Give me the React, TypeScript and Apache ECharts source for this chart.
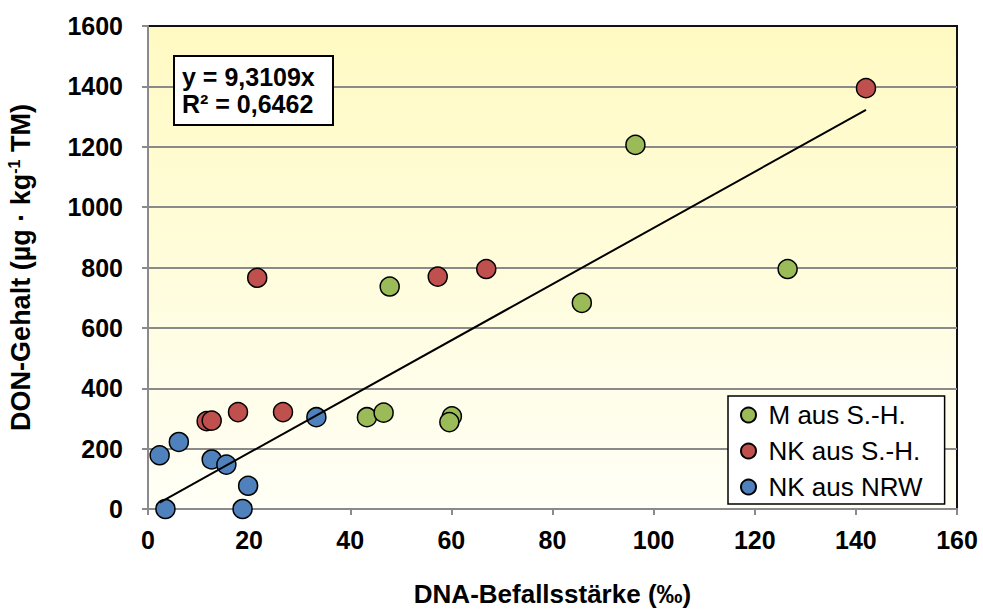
import React, { useEffect, useRef } from "react";
import * as echarts from "echarts";

const seriesNames = ["M aus S.-H.", "NK aus S.-H.", "NK aus NRW"];
const seriesColors = ["#9BBB59", "#C0504D", "#4F81BD"];

const mX = [96.4, 126.5, 85.8, 47.8, 43.3, 46.6, 60.1, 59.6];
const mY = [1206, 795, 683, 737, 304, 319, 307, 288];
const nkShX = [142, 66.9, 57.3, 21.6, 11.6, 12.6, 17.8, 26.7];
const nkShY = [1394, 795, 770, 766, 291, 293, 321, 321];
const nrwX = [33.3, 2.3, 6.1, 12.6, 15.5, 19.8, 3.45, 18.7];
const nrwY = [304, 178, 222, 164, 147, 77, 0, 0];

const slope = 9.3109;
const r2 = 0.6462;
const trendX = [2.3, 142];

const xMin = 0, xMax = 160, xStep = 20;
const yMin = 0, yMax = 1600, yStep = 200;

const FONT = '"Liberation Sans", Arial, sans-serif';
const fmt = (v: number) => String(v).replace(".", ",");

export default function App() {
  const ref = useRef<HTMLDivElement>(null);
  useEffect(() => {
    if (!ref.current) return;
    const chart = echarts.init(ref.current, undefined, { renderer: "svg" });
    const pts = (xs: number[], ys: number[]) => xs.map((x, i) => [x, ys[i]]);
    const data = [pts(mX, mY), pts(nkShX, nkShY), pts(nrwX, nrwY)];
    const gray = "#8A8A8A";
    chart.setOption({
      animation: false,
      textStyle: { fontFamily: FONT },
      grid: {
        left: 148,
        right: 26,
        top: 26,
        bottom: 100,
        containLabel: false,
        outerBoundsMode: "none",
        show: true,
        borderColor: "#111",
        borderWidth: 2,
        backgroundColor: {
          type: "linear",
          x: 0, y: 0, x2: 0, y2: 1,
          colorStops: [
            { offset: 0, color: "#FFFAC2" },
            { offset: 1, color: "#FFFFF6" },
          ],
        },
      },
      xAxis: {
        type: "value",
        min: xMin,
        max: xMax,
        interval: xStep,
        name: "DNA-Befallsstärke (‰)",
        nameLocation: "middle",
        nameGap: 71,
        nameTextStyle: { fontFamily: FONT, fontSize: 26, fontWeight: "bold", color: "#000", lineHeight: 28 },
        axisLine: { lineStyle: { color: gray, width: 2 } },
        axisTick: { show: true, inside: false, length: 6, lineStyle: { color: gray, width: 2 } },
        axisLabel: {
          margin: 18,
          fontFamily: FONT,
          fontSize: 25,
          fontWeight: "bold",
          color: "#000",
          formatter: (v: number) => String(v),
        },
        splitLine: { show: false },
      },
      yAxis: {
        type: "value",
        min: yMin,
        max: yMax,
        interval: yStep,
        name: "DON-Gehalt (µg · kg{sup|-1} TM)",
        nameLocation: "middle",
        nameGap: 112,
        nameTextStyle: {
          fontFamily: FONT,
          fontSize: 27,
          fontWeight: "bold",
          color: "#000",
          lineHeight: 30,
          rich: {
            sup: { fontFamily: FONT, fontSize: 16, fontWeight: "bold", color: "#000", lineHeight: 20, verticalAlign: "top" },
          },
        },
        axisLine: { show: true, lineStyle: { color: gray, width: 2 } },
        axisTick: { show: true, inside: false, length: 6, lineStyle: { color: gray, width: 2 } },
        axisLabel: {
          margin: 25,
          fontFamily: FONT,
          fontSize: 25,
          fontWeight: "bold",
          color: "#000",
          formatter: (v: number) => String(v),
        },
        splitLine: { show: true, showMinLine: false, showMaxLine: false, lineStyle: { color: gray, width: 2 } },
      },
      legend: {
        data: seriesNames,
        orient: "vertical",
        left: 728,
        top: 396,
        backgroundColor: "#fff",
        borderColor: "#000",
        borderWidth: 1.5,
        borderRadius: 0,
        padding: [6, 22, 4, 12],
        itemWidth: 30,
        itemHeight: 15,
        itemGap: 10,
        textStyle: { fontFamily: FONT, fontSize: 26, color: "#000", lineHeight: 24 },
      },
      series: [
        ...seriesNames.map((name, i) => ({
          name,
          type: "scatter",
          data: data[i],
          symbol: "circle",
          symbolSize: 19,
          itemStyle: { color: seriesColors[i], borderColor: "#000", borderWidth: 1.5, opacity: 1 },
          z: 2,
        })),
        {
          name: "Trend",
          type: "line",
          data: trendX.map((x) => [x, slope * x]),
          symbol: "none",
          lineStyle: { color: "#000", width: 2 },
          silent: true,
          z: 5,
        },
      ],
      graphic: [
        {
          type: "rect",
          left: 173,
          top: 55,
          shape: { width: 159, height: 69 },
          style: { fill: "#fff", stroke: "#000", lineWidth: 2 },
          z: 10,
        },
        {
          type: "text",
          left: 182,
          top: 63,
          style: {
            text: `y = ${fmt(slope)}x\nR² = ${fmt(r2)}`,
            font: `bold 25px ${FONT}`,
            lineHeight: 27,
            fill: "#000",
          },
          z: 11,
        },
      ],
    });
    return () => chart.dispose();
  }, []);
  return (
    <div
      ref={ref}
      style={{ position: "absolute", left: 0, top: 0, width: 983, height: 609 }}
    />
  );
}
